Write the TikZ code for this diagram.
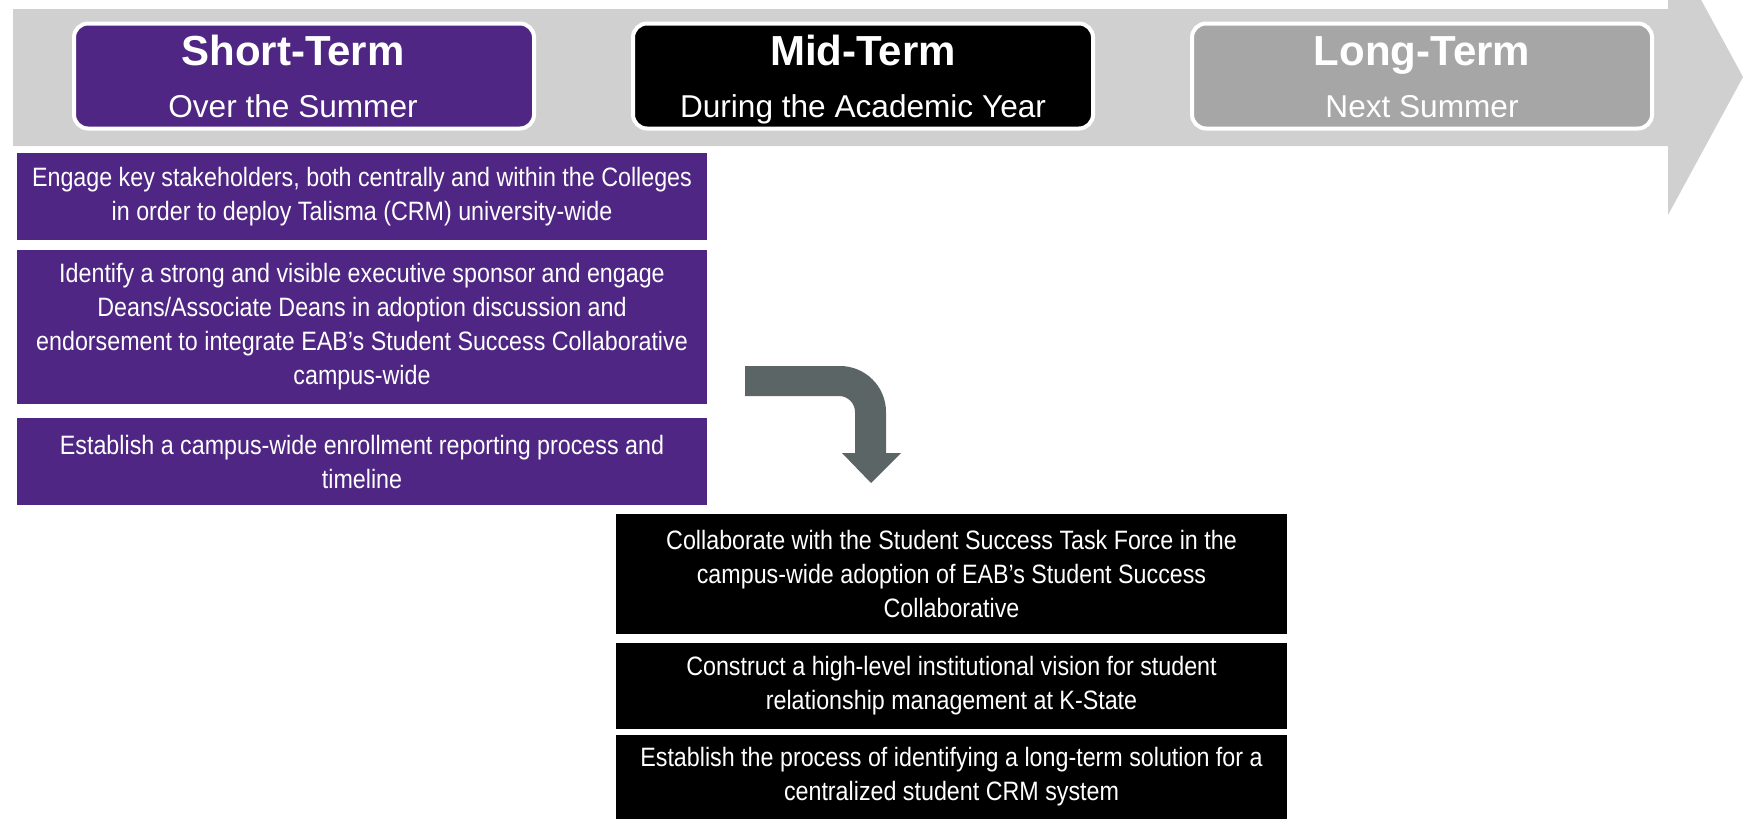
\documentclass[tikz,border=0pt]{standalone}
\usepackage{fontspec}
\setmainfont{Liberation Sans}[FakeStretch=0.875]
\newfontfamily\headfont{Liberation Sans}
\usetikzlibrary{calc}

\definecolor{kspurple}{HTML}{4F2683}
\definecolor{bandgray}{HTML}{D0D0D0}
\definecolor{longgray}{HTML}{A6A6A6}
\definecolor{bendgray}{HTML}{5C6566}

\tikzset{
  phase/.style={draw=white, line width=2pt, rounded corners=7pt,
    minimum width=230pt, minimum height=52.5pt, inner sep=0pt},
  phasetitle/.style={text=white, anchor=base, inner sep=0pt,
    font=\headfont\fontsize{21}{21}\selectfont\bfseries},
  phasesub/.style={text=white, anchor=base, inner sep=0pt,
    font=\headfont\fontsize{15.8}{15.8}\selectfont},
  task/.style={text=white, align=center, inner sep=0pt,
    font=\fontsize{13.3}{17}\selectfont},
  shortbox/.style={task, fill=kspurple, minimum width=345pt},
  midbox/.style={task, fill=black, minimum width=335.5pt},
}

\begin{document}
\begin{tikzpicture}[x=0.5pt, y=-0.5pt]

\clip (0,0) rectangle (1743,819);

% timeline band with arrow head
\fill[bandgray] (13,9) -- (1668,9) -- (1668,-61) -- (1743,77)
  -- (1668,215) -- (1668,146) -- (13,146) -- cycle;

% phase headers
\node (short) [phase, fill=kspurple] at (304,76) {};
\node (mid) [phase, fill=black] at (863,76) {};
\node (long) [phase, fill=longgray] at (1422,76) {};

\node (shorttitle) [phasetitle] at (293,65) {Short-Term};
\node (shortsub) [phasesub] at (293,117) {Over the Summer};
\node (midtitle) [phasetitle] at (863,65) {Mid-Term};
\node (midsub) [phasesub] at (863,117) {During the Academic Year};
\node (longtitle) [phasetitle] at (1422,65) {Long-Term};
\node (longsub) [phasesub] at (1422,117) {Next Summer};

% short-term tasks
\node (engage) [shortbox, minimum height=43.5pt] at (362,196.5)
  {Engage key stakeholders, both centrally and within the Colleges\\
   in order to deploy Talisma (CRM) university-wide};
\node (sponsor) [shortbox, minimum height=77pt] at (362,327)
  {Identify a strong and visible executive sponsor and engage\\
   Deans/Associate Deans in adoption discussion and\\
   endorsement to integrate EAB’s Student Success Collaborative\\
   campus-wide};
\node (report) [shortbox, minimum height=43.5pt] at (362,461.5)
  {Establish a campus-wide enrollment reporting process and\\
   timeline};

% mid-term tasks
\node (taskforce) [midbox, minimum height=60pt] at (951.5,574)
  {Collaborate with the Student Success Task Force in the\\
   campus-wide adoption of EAB’s Student Success\\
   Collaborative};
\node (vision) [midbox, minimum height=43pt] at (951.5,686)
  {Construct a high-level institutional vision for student\\
   relationship management at K-State};
\node (crm) [midbox, minimum height=42pt] at (951.5,777)
  {Establish the process of identifying a long-term solution for a\\
   centralized student CRM system};

% bent arrow from short-term to mid-term
\fill[bendgray] (745,366) -- (840,366)
  .. controls (865.4,366) and (886,386.6) .. (886,412)
  -- (886,453) -- (901,453) -- (871,483) -- (842,453) -- (855,453)
  -- (855,412) .. controls (855,403.2) and (847.8,396) .. (839,396)
  -- (745,396) -- cycle;

\end{tikzpicture}
\end{document}
